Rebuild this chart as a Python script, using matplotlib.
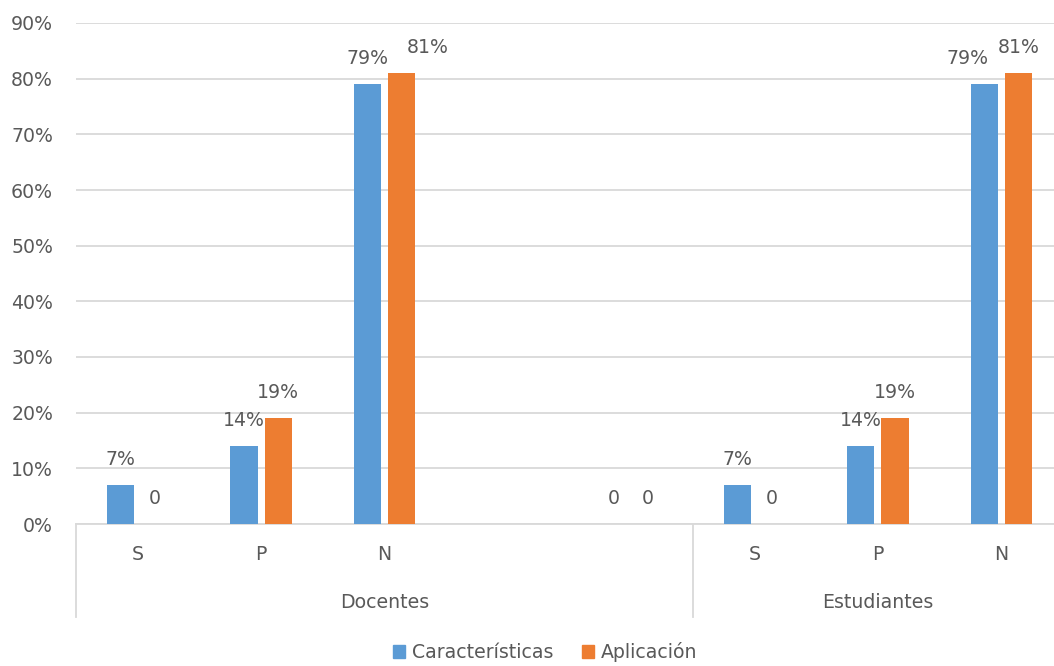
import numpy as np
import matplotlib
matplotlib.use("Agg")
import matplotlib.pyplot as plt
from matplotlib.patches import Patch

# -----------------------------
# DATA
# -----------------------------
sub_labels = ["S", "P", "N", "", "", "S", "P", "N"]
groups = ["Docentes", "Estudiantes"]
group_spans = [(0, 4), (5, 7)]          # category index ranges
caracteristicas = [0.07, 0.14, 0.79, np.nan, 0.0, 0.07, 0.14, 0.79]
aplicacion = [0.0, 0.19, 0.81, np.nan, 0.0, 0.0, 0.19, 0.81]
series_names = ["Características", "Aplicación"]
y_ticks = [0, 0.1, 0.2, 0.3, 0.4, 0.5, 0.6, 0.7, 0.8, 0.9]

# -----------------------------
# STYLE
# -----------------------------
BLUE = "#5B9BD5"
ORANGE = "#ED7D31"
TXT = "#595959"
GRID = "#D9D9D9"
FS = 13.6

# Excel nudged a couple of labels sideways to avoid overlap (pixels)
nudge_c = {7: -17}
nudge_a = {2: 26}

plt.rcParams["font.family"] = ["DejaVu Sans"]

fig = plt.figure(figsize=(10.54, 6.66), dpi=100)
ax = fig.add_axes([76 / 1054, 1 - 524 / 666, 987 / 1054, 501 / 666])

x = np.arange(len(sub_labels))
bw = 0.22
off = 0.138

ax.bar(x - off, caracteristicas, bw, color=BLUE, zorder=3)
ax.bar(x + off, aplicacion, bw, color=ORANGE, zorder=3)


def fmt(v):
    return "0" if v == 0 else f"{v:.0%}"


# data labels (placed above the bar top)
for vals, sign, nudge in [(caracteristicas, -1, nudge_c), (aplicacion, 1, nudge_a)]:
    for i, v in enumerate(vals):
        if np.isnan(v):
            continue
        ax.annotate(fmt(v), (x[i] + sign * off, v), xytext=(nudge.get(i, 0), 26),
                    textcoords="offset pixels", ha="center", va="center",
                    fontsize=FS, color=TXT)

ax.set_xlim(-0.5, len(sub_labels) - 0.5)
ax.set_ylim(0, 0.9)
ax.set_yticks(y_ticks)
ax.set_yticklabels([f"{t:.0%}" for t in y_ticks], fontsize=FS, color=TXT)
ax.tick_params(axis="y", length=0, pad=16.5)
ax.set_xticks([])

ax.grid(axis="y", color=GRID, linewidth=1.3, zorder=0)
for s in ["top", "right", "left"]:
    ax.spines[s].set_visible(False)
ax.spines["bottom"].set_color(GRID)
ax.spines["bottom"].set_linewidth(1.3)

# multi-level category axis
tr = ax.get_xaxis_transform()
line_depth = -(617 - 524) / 501
for i, lab in enumerate(sub_labels):
    if lab:
        ax.text(x[i], -31 / 501, lab, transform=tr, ha="center", va="center",
                fontsize=FS, color=TXT)
for (a, b), g in zip(group_spans, groups):
    ax.text((a + b) / 2, -78 / 501, g, transform=tr, ha="center", va="center",
            fontsize=FS, color=TXT)
for xb in [-0.5, 4.5]:
    ax.plot([xb, xb], [0, line_depth], transform=tr, color=GRID, lw=1.3, clip_on=False)

handles = [Patch(color=BLUE, label=series_names[0]), Patch(color=ORANGE, label=series_names[1])]
leg = fig.legend(handles=handles, loc="center", bbox_to_anchor=(545 / 1054, 1 - 652 / 666),
                 ncol=2, frameon=False, fontsize=FS, handlelength=0.65, handleheight=0.65,
                 handletextpad=0.35, columnspacing=1.5)
for t in leg.get_texts():
    t.set_color(TXT)

fig.savefig("out.png", dpi=100)
